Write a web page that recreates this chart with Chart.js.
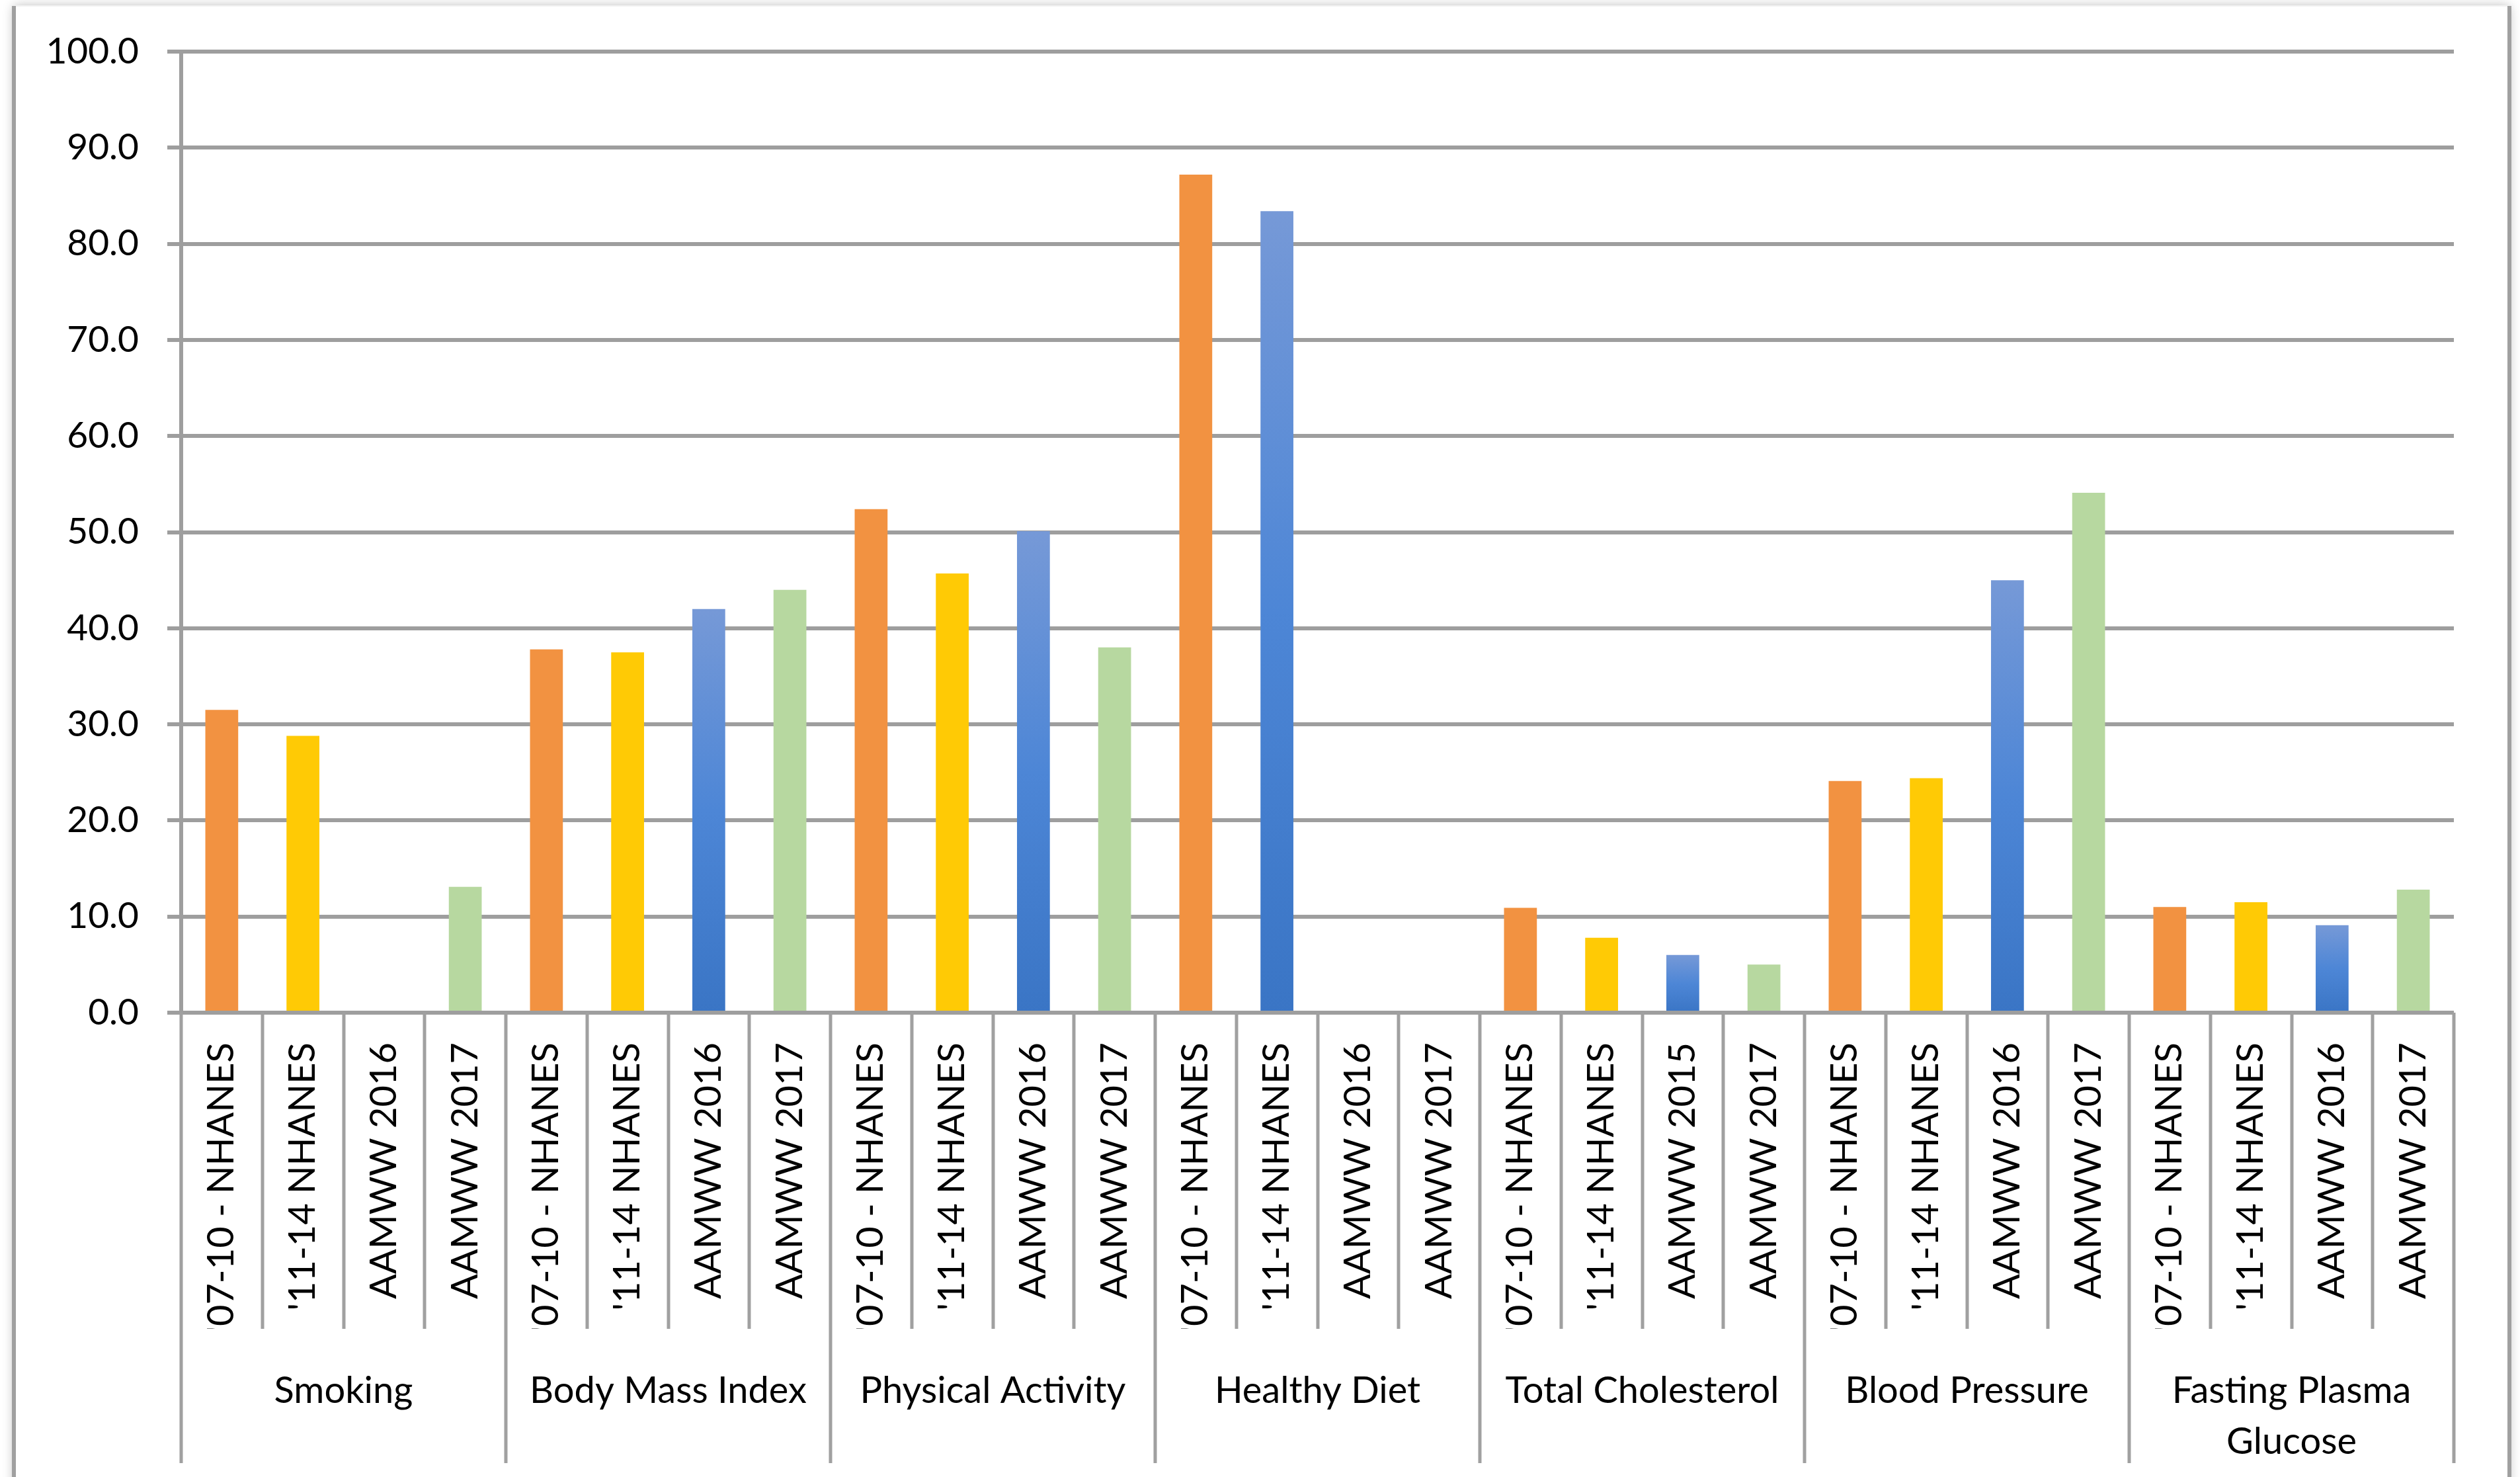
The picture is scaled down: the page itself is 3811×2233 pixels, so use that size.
<!DOCTYPE html>
<html>
<head>
<meta charset="utf-8">
<script src="https://cdn.jsdelivr.net/npm/chart.js@4/dist/chart.umd.min.js"></script>
<style>
  html, body { margin: 0; padding: 0; background: #ffffff; }
  #wrap { width: 3811px; height: 2233px; position: relative; }
  canvas { display: block; }
</style>
</head>
<body>
<div id="wrap"><canvas id="chart" width="3811" height="2233"></canvas></div>
<script>
// Life's Simple 7 metrics: share of people meeting each metric, by survey source
const groups = [
  'Smoking',
  'Body Mass Index',
  'Physical Activity',
  'Healthy Diet',
  'Total Cholesterol',
  'Blood Pressure',
  ['Fasting Plasma', 'Glucose']
];

const tickLabels = [
  "'07-10 - NHANES", "'11-14 NHANES", 'AAMWW 2016', 'AAMWW 2017',
  "'07-10 - NHANES", "'11-14 NHANES", 'AAMWW 2016', 'AAMWW 2017',
  "'07-10 - NHANES", "'11-14 NHANES", 'AAMWW 2016', 'AAMWW 2017',
  "'07-10 - NHANES", "'11-14 NHANES", 'AAMWW 2016', 'AAMWW 2017',
  "'07-10 - NHANES", "'11-14 NHANES", 'AAMWW 2015', 'AAMWW 2017',
  "'07-10 - NHANES", "'11-14 NHANES", 'AAMWW 2016', 'AAMWW 2017',
  "'07-10 - NHANES", "'11-14 NHANES", 'AAMWW 2016', 'AAMWW 2017'
];

// one value per metric group, in the order of `groups`
const nhanes0710 = [31.5, 37.8, 52.4, 87.2, 10.9, 24.1, 11.0];
const nhanes1114 = [28.8, 37.5, 45.7, 83.4, 7.8, 24.4, 11.5];
const aamwwThird = [null, 42.0, 50.1, null, 6.0, 45.0, 9.1];
const aamww2017  = [13.1, 44.0, 38.0, null, 5.0, 54.1, 12.8];

const yTicks = [0, 10, 20, 30, 40, 50, 60, 70, 80, 90, 100];

// fill style per bar: o = orange, y = yellow, b = blue gradient, g = green
const fillKeys = [
  'o', 'y', 'b', 'g',
  'o', 'y', 'b', 'g',
  'o', 'y', 'b', 'g',
  'o', 'b', 'b', 'g',
  'o', 'y', 'b', 'g',
  'o', 'y', 'b', 'g',
  'o', 'y', 'b', 'g'
];

const ORANGE = '#F29241';
const YELLOW = '#FFCA05';
const GREEN  = '#B7D8A0';
const BLUE_TOP = '#7699D7';
const BLUE_MID = '#4D86D6';
const BLUE_BOTTOM = '#3A75C5';
const GRID = '#9E9E9E';
const SEPARATOR = '#A0A0A0';

// interleave the four survey series into one bar per tick
const series = [nhanes0710, nhanes1114, aamwwThird, aamww2017];
const values = [];
groups.forEach((g, gi) => series.forEach(s => values.push(s[gi])));

function barColor(ctx) {
  const key = fillKeys[ctx.dataIndex];
  if (key === 'o') return ORANGE;
  if (key === 'y') return YELLOW;
  if (key === 'g') return GREEN;
  const chart = ctx.chart;
  const v = ctx.raw;
  if (!chart.chartArea || v === null || v === undefined) return BLUE_BOTTOM;
  const ys = chart.scales.y;
  const top = ys.getPixelForValue(v);
  const base = ys.getPixelForValue(0);
  const g = chart.ctx.createLinearGradient(0, top, 0, base);
  g.addColorStop(0, BLUE_TOP);
  g.addColorStop(0.5, BLUE_MID);
  g.addColorStop(1, BLUE_BOTTOM);
  return g;
}

// frame around the chart and the two-level category separators
const framePlugin = {
  id: 'frame',
  beforeDraw(chart) {
    const c = chart.ctx;
    c.save();
    c.fillStyle = '#ffffff';
    c.shadowColor = 'rgba(0,0,0,0.28)';
    c.shadowBlur = 16;
    c.fillRect(21, 9, 3774, 2400);
    c.restore();
    c.save();
    c.strokeStyle = '#F2F2F2';
    c.lineWidth = 2;
    c.beginPath(); c.moveTo(21, 9); c.lineTo(3795, 9); c.stroke();
    c.strokeStyle = SEPARATOR;
    c.lineWidth = 6;
    c.beginPath();
    c.moveTo(21, 9); c.lineTo(21, 2233);
    c.moveTo(3795, 9); c.lineTo(3795, 2233);
    c.stroke();
    c.restore();
  },
  afterDraw(chart) {
    const c = chart.ctx;
    const xs = chart.scales.x;
    const x2 = chart.scales.x2;
    const step = xs.getPixelForValue(1) - xs.getPixelForValue(0);
    c.save();
    c.strokeStyle = SEPARATOR;
    c.lineWidth = 5;
    for (let i = 0; i <= values.length; i++) {
      const px = Math.round(xs.getPixelForValue(i) - step / 2);
      const bottom = (i % 4 === 0) ? x2.bottom - 21 : xs.bottom;
      c.beginPath();
      c.moveTo(px, chart.chartArea.bottom);
      c.lineTo(px, bottom);
      c.stroke();
    }
    c.restore();
  }
};

Chart.defaults.font.family = 'Lato, "Open Sans", sans-serif';
Chart.defaults.color = '#000000';

new Chart(document.getElementById('chart'), {
  type: 'bar',
  data: {
    labels: tickLabels,
    datasets: [{
      data: values,
      backgroundColor: barColor,
      borderWidth: 0,
      barPercentage: 0.405,
      categoryPercentage: 1.0
    }]
  },
  options: {
    responsive: false,
    devicePixelRatio: 1,
    animation: false,
    layout: { padding: { top: 78, right: 100, bottom: 0, left: 0 } },
    plugins: {
      legend: { display: false },
      tooltip: { enabled: false },
      title: { display: false }
    },
    scales: {
      y: {
        min: 0,
        max: 100,
        afterBuildTicks(scale) { scale.ticks = yTicks.map(v => ({ value: v })); },
        afterFit(scale) { scale.width = 274; },
        ticks: {
          font: { size: 55 },
          padding: 43,
          callback: v => Number(v).toFixed(1)
        },
        grid: { color: GRID, lineWidth: 6, tickLength: 21, drawTicks: true },
        border: { display: true, color: GRID, width: 6 }
      },
      x: {
        position: 'bottom',
        afterFit(scale) { scale.height = 478; },
        ticks: {
          font: { size: 56 },
          minRotation: 90,
          maxRotation: 90,
          autoSkip: false,
          padding: 45
        },
        grid: { display: false, drawTicks: false },
        border: { display: false }
      },
      x2: {
        type: 'category',
        position: 'bottom',
        labels: groups,
        offset: true,
        afterFit(scale) { scale.height = 224; },
        ticks: {
          font: { size: 56, lineHeight: 1.38 },
          maxRotation: 0,
          minRotation: 0,
          autoSkip: false,
          padding: 55
        },
        grid: { display: false, drawTicks: false },
        border: { display: false }
      }
    }
  },
  plugins: [framePlugin]
});
</script>
</body>
</html>
